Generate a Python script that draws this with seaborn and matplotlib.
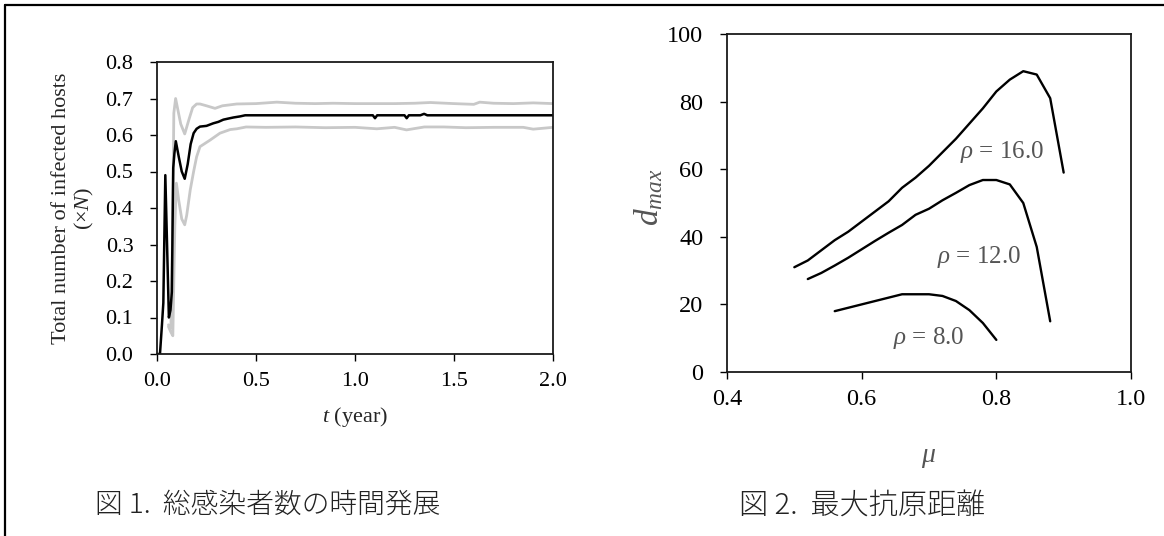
import matplotlib
matplotlib.use("Agg")
import matplotlib.pyplot as plt
from matplotlib.lines import Line2D
from matplotlib.ticker import FormatStrFormatter
import seaborn as sns

# Fig. 1: total number of infected hosts (x N) vs time (year)
t_mean = [0.000, 0.015, 0.025, 0.032, 0.042, 0.060, 0.068, 0.075, 0.082, 0.088,
          0.095, 0.110, 0.125, 0.140, 0.155, 0.170, 0.185, 0.200, 0.217, 0.250,
          0.284, 0.310, 0.335, 0.360, 0.386, 0.420, 0.445, 0.600, 0.800, 1.000,
          1.090, 1.101, 1.112, 1.250, 1.261, 1.272, 1.330, 1.349, 1.365, 1.600,
          1.800, 2.000]
n_mean = [0.000, 0.000, 0.080, 0.140, 0.490, 0.100, 0.120, 0.170, 0.510, 0.550,
          0.583, 0.540, 0.500, 0.480, 0.520, 0.575, 0.605, 0.617, 0.623, 0.625,
          0.632, 0.636, 0.642, 0.645, 0.648, 0.651, 0.654, 0.654, 0.654, 0.654,
          0.654, 0.646, 0.654, 0.654, 0.646, 0.654, 0.654, 0.658, 0.654, 0.654,
          0.654, 0.654]

t_upper = [0.058, 0.070, 0.078, 0.085, 0.094, 0.105, 0.120, 0.140, 0.160, 0.180,
           0.200, 0.217, 0.250, 0.293, 0.330, 0.403, 0.500, 0.605, 0.700, 0.800,
           0.890, 1.000, 1.100, 1.200, 1.300, 1.380, 1.500, 1.600, 1.630, 1.700,
           1.800, 1.900, 2.000]
n_upper = [0.080, 0.070, 0.300, 0.660, 0.700, 0.670, 0.630, 0.603, 0.640, 0.675,
           0.685, 0.685, 0.680, 0.673, 0.680, 0.685, 0.686, 0.690, 0.687, 0.686,
           0.687, 0.686, 0.686, 0.686, 0.687, 0.689, 0.686, 0.684, 0.690, 0.687,
           0.686, 0.688, 0.686]

t_lower = [0.058, 0.070, 0.080, 0.090, 0.098, 0.110, 0.125, 0.140, 0.150, 0.168,
           0.185, 0.200, 0.217, 0.268, 0.318, 0.370, 0.403, 0.450, 0.550, 0.700,
           0.850, 1.000, 1.110, 1.200, 1.260, 1.350, 1.450, 1.560, 1.700, 1.850,
           1.900, 2.000]
n_lower = [0.075, 0.060, 0.050, 0.350, 0.468, 0.420, 0.370, 0.354, 0.380, 0.450,
           0.500, 0.540, 0.568, 0.586, 0.605, 0.615, 0.617, 0.622, 0.621, 0.622,
           0.620, 0.621, 0.617, 0.621, 0.614, 0.622, 0.622, 0.620, 0.621, 0.621,
           0.616, 0.621]

# Fig. 2: maximum antigenic distance vs mu
mu_16 = [0.50, 0.52, 0.54, 0.56, 0.58, 0.60, 0.62, 0.64, 0.66, 0.68, 0.70,
         0.72, 0.74, 0.76, 0.78, 0.80, 0.82, 0.84, 0.86, 0.88, 0.90]
d_16 = [31.0, 33.0, 36.0, 39.0, 41.5, 44.5, 47.5, 50.5, 54.5, 57.5, 61.0,
        65.0, 69.0, 73.5, 78.0, 83.0, 86.5, 89.0, 88.0, 81.0, 59.0]

mu_12 = [0.52, 0.54, 0.56, 0.58, 0.60, 0.62, 0.64, 0.66, 0.68, 0.70,
         0.72, 0.74, 0.76, 0.78, 0.80, 0.82, 0.84, 0.86, 0.88]
d_12 = [27.5, 29.3, 31.5, 33.8, 36.3, 38.8, 41.2, 43.5, 46.5, 48.3,
        50.8, 53.0, 55.3, 56.8, 56.8, 55.5, 50.0, 37.0, 15.0]

mu_8 = [0.56, 0.58, 0.60, 0.62, 0.64, 0.66, 0.68, 0.70, 0.72, 0.74, 0.76, 0.78, 0.80]
d_8 = [18.0, 19.0, 20.0, 21.0, 22.0, 23.0, 23.0, 23.0, 22.5, 21.0, 18.3, 14.5, 9.5]

rho_labels = ["16.0", "12.0", "8.0"]
rho_label_pos = [(0.809, 65.0), (0.774, 34.0), (0.700, 10.0)]

sns.set_style("ticks")
plt.rcParams['font.serif'] = ['Liberation Serif', 'DejaVu Serif']
plt.rcParams['font.family'] = ['serif']
plt.rcParams['mathtext.fontset'] = 'custom'
plt.rcParams['mathtext.rm'] = 'Liberation Serif'
plt.rcParams['mathtext.it'] = 'Liberation Serif:italic'

W, H = 1164, 536
fig = plt.figure(figsize=(W / 100, H / 100), dpi=100)


def box(l, t, r, b):
    return [l / W, 1 - b / H, (r - l) / W, (b - t) / H]


ax1 = fig.add_axes(box(157, 62, 553, 354))
ax2 = fig.add_axes(box(727, 34, 1131, 372))

# left panel: mean and band
sns.lineplot(x=t_upper, y=n_upper, ax=ax1, color='#c8c8c8', lw=2.0, sort=False, estimator=None)
sns.lineplot(x=t_lower, y=n_lower, ax=ax1, color='#c8c8c8', lw=2.0, sort=False, estimator=None)
sns.lineplot(x=t_mean, y=n_mean, ax=ax1, color='black', lw=1.8, sort=False, estimator=None)
ax1.set_xlim(0, 2.0)
ax1.set_ylim(0, 0.8)
ax1.set_xticks([0.0, 0.5, 1.0, 1.5, 2.0])
ax1.set_yticks([0.0, 0.1, 0.2, 0.3, 0.4, 0.5, 0.6, 0.7, 0.8])
ax1.xaxis.set_major_formatter(FormatStrFormatter('%.1f'))
ax1.yaxis.set_major_formatter(FormatStrFormatter('%.1f'))
ax1.tick_params(axis='both', direction='out', length=5, width=1, labelsize=16, colors='black')
ax1.tick_params(axis='y', pad=12)
ax1.tick_params(axis='x', pad=8)
ax1.set_xlabel('$t$ (year)', fontsize=16, va='center')
ax1.xaxis.set_label_coords(0.5, (354 - 417) / 292)
ax1.set_ylabel('Total number of infected hosts\n(×$N$)', fontsize=16, va='center', linespacing=1.15)
ax1.yaxis.set_label_coords((74 - 157) / 396, 0.5)

# right panel: d_max curves
for mu, d in [(mu_16, d_16), (mu_12, d_12), (mu_8, d_8)]:
    sns.lineplot(x=mu, y=d, ax=ax2, color='black', lw=1.7, sort=False, estimator=None)
for lab, (x, y) in zip(rho_labels, rho_label_pos):
    ax2.text(x, y, r'$\rho$ = ' + lab, fontsize=18, color='#555555', ha='center', va='center')
ax2.set_xlim(0.4, 1.0)
ax2.set_ylim(0, 100)
ax2.set_xticks([0.4, 0.6, 0.8, 1.0])
ax2.set_yticks([0, 20, 40, 60, 80, 100])
ax2.xaxis.set_major_formatter(FormatStrFormatter('%.1f'))
ax2.tick_params(axis='both', direction='out', length=5, width=1, labelsize=17.5, colors='black')
ax2.tick_params(axis='y', pad=12)
ax2.tick_params(axis='x', pad=7)
ax2.set_xlabel(r'$\mu$', fontsize=20, color='#555555', va='center')
ax2.xaxis.set_label_coords(0.5, (372 - 458) / 338)
ax2.set_ylabel(r'$d_{max}$', fontsize=24, color='#555555', va='center', rotation=90)
ax2.yaxis.set_label_coords((649 - 727) / 404, (372 - 197) / 338)

for ax in (ax1, ax2):
    for side in ['top', 'right', 'bottom', 'left']:
        ax.spines[side].set_visible(True)
        ax.spines[side].set_color('#1a1a1a')
        ax.spines[side].set_linewidth(1.3)

# captions
cap_font = ['Noto Sans CJK JP', 'DejaVu Sans']
fig.text(95 / W, 1 - 505 / H, '図 1.  総感染者数の時間発展', fontsize=20, family=cap_font,
         weight='light', color='#222222', ha='left', va='center')
fig.text(739 / W, 1 - 505 / H, '図 2.  最大抗原距離', fontsize=21, family=cap_font,
         weight='light', color='#222222', ha='left', va='center')

# page frame lines
fig.add_artist(Line2D([5 / W, 1.0], [1 - 5 / H, 1 - 5 / H], transform=fig.transFigure,
                      color='black', lw=1.6))
fig.add_artist(Line2D([5 / W, 5 / W], [0.0, 1 - 5 / H], transform=fig.transFigure,
                      color='black', lw=1.6))

fig.savefig('out.png', dpi=100)
